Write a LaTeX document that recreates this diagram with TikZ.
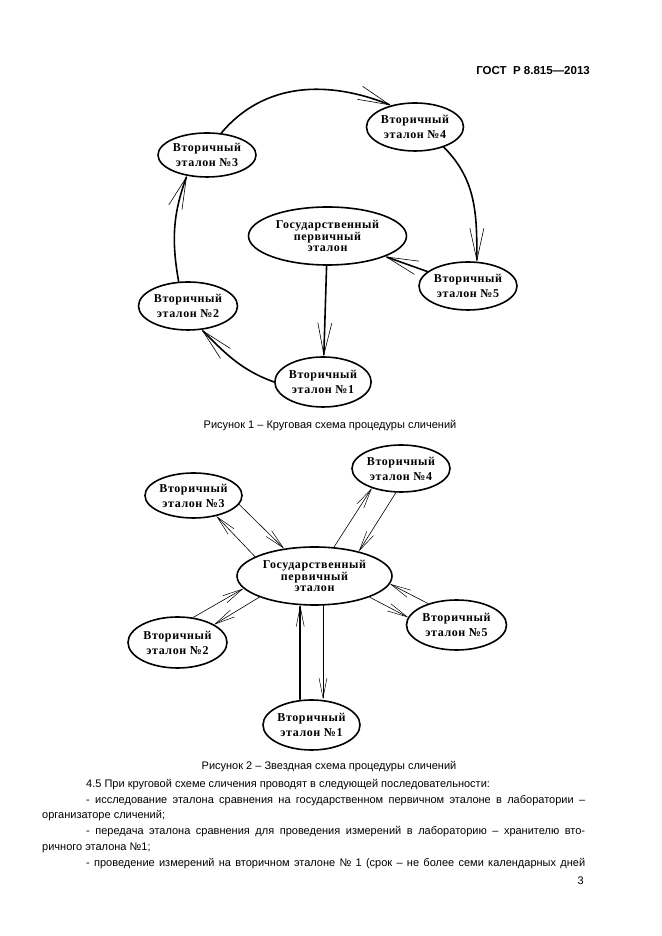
\documentclass[tikz,border=0pt]{standalone}
\usepackage{fontspec}
\setmainfont{Liberation Sans}
\newfontfamily\schemefont[LetterSpace=5]{Liberation Serif}
\usetikzlibrary{arrows.meta,shapes.geometric}
\tikzset{
 etalon/.style={ellipse,draw,line width=1.6pt,inner sep=0pt,align=center,
  font=\schemefont\bfseries\fontsize{12}{15}\selectfont},
 glavnyj/.style={etalon,font=\schemefont\bfseries\fontsize{12}{10.5}\selectfont},
 kline/.style={line width=1.6pt,-{Straight Barb[length=32pt,width=14pt,line width=.6pt]}},
 zline/.style={line width=.6pt,-{Straight Barb[length=20pt,width=8pt,line width=.5pt]}},
 txt/.style={inner sep=0pt,font=\fontsize{11}{15.8}\selectfont}
}
\begin{document}
\begin{tikzpicture}[x=1pt,y=1pt,line cap=round]
 \useasboundingbox (0,0) rectangle (661,936);
 \node[txt,anchor=base east,font=\bfseries\fontsize{11.5}{14}\selectfont] (hdr) at (590,861.5)
  {ГОСТ\ \ Р 8.815—2013};

 \node[glavnyj,minimum width=158pt,minimum height=58pt] (kgpe) at (327.5,700)
  {Государственный\\первичный\\эталон};
 \node[etalon,minimum width=94pt,minimum height=50pt] (k1) at (323,554) {Вторичный\\эталон №1};
 \node[etalon,minimum width=99pt,minimum height=48pt] (k2) at (188,630) {Вторичный\\эталон №2};
 \node[etalon,minimum width=98pt,minimum height=44pt] (k3) at (207,781) {Вторичный\\эталон №3};
 \node[etalon,minimum width=97pt,minimum height=48pt] (k4) at (415,809) {Вторичный\\эталон №4};
 \node[etalon,minimum width=98pt,minimum height=48pt] (k5) at (468,650) {Вторичный\\эталон №5};
 \draw[kline] (k1.180) to[out=160,in=-45] (k2.-60);
 \draw[kline] (k2.111) to[out=100,in=250] (k3.-134);
 \draw[kline] (k3.57) to[out=50,in=158] (k4.138);
 \draw[kline] (k4.-35) to[out=-45,in=90] (k5.70);
 \draw[kline] (k5) -- (kgpe);
 \draw[kline] (kgpe) -- (k1);
 \node[txt,anchor=base] (cap1) at (330,507) {Рисунок 1 – Круговая схема процедуры сличений};

 \node[glavnyj,minimum width=155pt,minimum height=58pt] (zgpe) at (314.5,360)
  {Государственный\\первичный\\эталон};
 \node[etalon,minimum width=97pt,minimum height=50pt] (z1) at (311.5,211) {Вторичный\\эталон №1};
 \node[etalon,minimum width=99pt,minimum height=51pt] (z2) at (177.5,293.5) {Вторичный\\эталон №2};
 \node[etalon,minimum width=97pt,minimum height=45pt] (z3) at (193.5,440.5) {Вторичный\\эталон №3};
 \node[etalon,minimum width=98pt,minimum height=47pt] (z4) at (401,467.5) {Вторичный\\эталон №4};
 \node[etalon,minimum width=100pt,minimum height=50pt] (z5) at (456.5,311) {Вторичный\\эталон №5};
 \draw[zline] (z3.-11.5) -- (zgpe.138);
 \draw[zline] (zgpe.162) -- (z3.-42);
 \draw[zline] (zgpe.56.5) -- (z4.214);
 \draw[zline] (z4.258) -- (zgpe.29);
 \draw[zline] (z2.58.7) -- (zgpe.190);
 \draw[zline] (zgpe.201) -- (z2.26);
 \draw[zline] (z5.143) -- (zgpe.-6.5);
 \draw[zline] (zgpe.-21) -- (z5.171);
 \draw[zline,line width=1.6pt] (z1.north -| zgpe.244) -- (zgpe.244);
 \draw[zline] (zgpe.286) -- (zgpe.286 |- z1.north);
 \node[txt,anchor=base] (cap2) at (329,166) {Рисунок 2 – Звездная схема процедуры сличений};

 \node[txt,anchor=base west] (p1) at (86,148)
  {4.5 При круговой схеме сличения проводят в следующей последовательности:};
 \node[txt,anchor=base west] (p2) at (86,132)
  {\hbox to 499pt{- исследование эталона сравнения на государственном первичном эталоне в лаборатории –}};
 \node[txt,anchor=base west] (p3) at (42,117) {организаторе сличений;};
 \node[txt,anchor=base west] (p4) at (86,101)
  {\hbox to 499pt{- передача эталона сравнения для проведения измерений в лабораторию – хранителю вто-}};
 \node[txt,anchor=base west] (p5) at (42,85) {ричного эталона №1;};
 \node[txt,anchor=base west] (p6) at (86,69)
  {\hbox to 499pt{- проведение измерений на вторичном эталоне № 1 (срок – не более семи календарных дней}};
 \node[txt,anchor=base east] (pg) at (584,51) {3};
\end{tikzpicture}
\end{document}
